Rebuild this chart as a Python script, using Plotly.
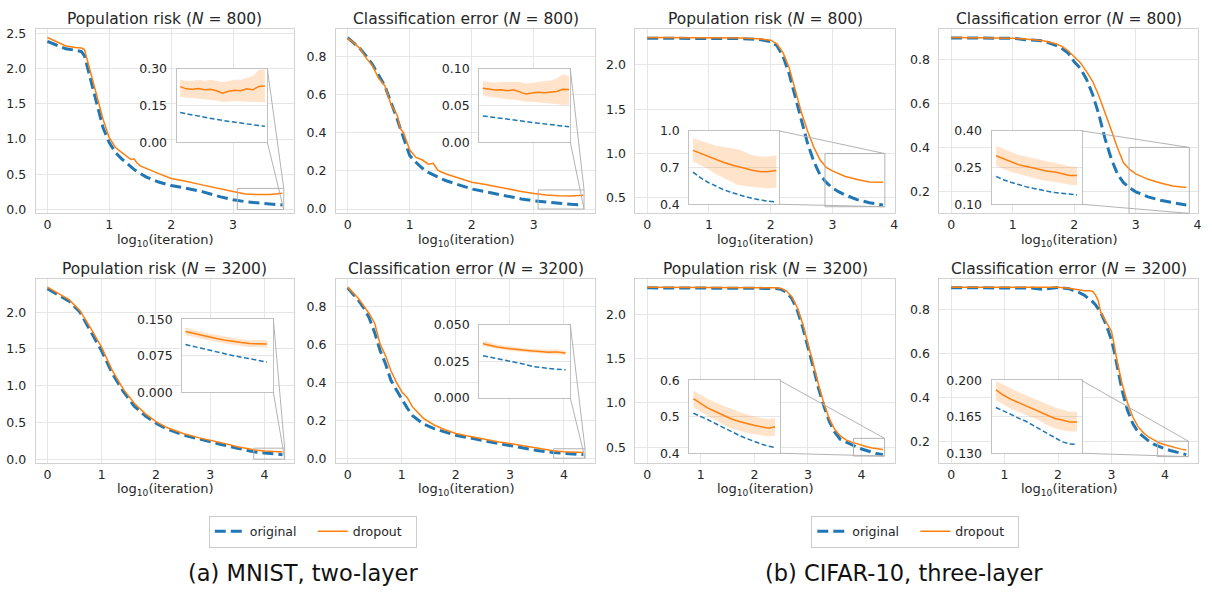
import plotly.graph_objects as go

# ------------------------------------------------------------------
# DATA (x = log10(iteration))
# ------------------------------------------------------------------
# (a) MNIST two-layer, N = 800, population risk
mn800_risk_x = [0, 0.15, 0.3, 0.45, 0.55, 0.6, 0.7, 0.8, 0.9, 1.0, 1.1, 1.2, 1.3, 1.35, 1.4, 1.45, 1.5, 1.6,
                1.8, 2.0, 2.2, 2.5, 2.8, 3.0, 3.2, 3.4, 3.6, 3.8]
mn800_risk_orig = [2.385, 2.33, 2.28, 2.26, 2.24, 2.18, 1.85, 1.48, 1.16, 0.95, 0.81, 0.72, 0.64, 0.60, 0.57, 0.54,
                   0.51, 0.46, 0.39, 0.34, 0.31, 0.255, 0.18, 0.14, 0.112, 0.094, 0.078, 0.064]
mn800_risk_drop = [2.44, 2.38, 2.32, 2.30, 2.29, 2.27, 1.95, 1.60, 1.28, 1.02, 0.88, 0.81, 0.75, 0.71, 0.72, 0.66,
                   0.62, 0.58, 0.51, 0.44, 0.41, 0.35, 0.29, 0.255, 0.222, 0.212, 0.214, 0.23]
mn800_risk_xi = [3.1, 3.15, 3.2, 3.25, 3.3, 3.35, 3.4, 3.45, 3.5, 3.55, 3.6, 3.65, 3.7, 3.75, 3.8]
mn800_risk_orig_i = [0.121, 0.116, 0.111, 0.106, 0.101, 0.097, 0.093, 0.089, 0.085, 0.081, 0.078, 0.074, 0.071,
                     0.068, 0.065]
mn800_risk_drop_i = [0.227, 0.218, 0.216, 0.219, 0.214, 0.216, 0.21, 0.20, 0.208, 0.212, 0.21, 0.218, 0.214,
                     0.228, 0.23]
mn800_risk_lo_i = [0.185, 0.183, 0.18, 0.178, 0.176, 0.172, 0.17, 0.164, 0.166, 0.168, 0.166, 0.168, 0.165, 0.164,
                   0.163]
mn800_risk_hi_i = [0.255, 0.25, 0.25, 0.255, 0.25, 0.255, 0.25, 0.245, 0.25, 0.255, 0.255, 0.262, 0.27, 0.295,
                   0.298]

# (a) MNIST two-layer, N = 800, classification error
mn800_err_x = [0, 0.1, 0.2, 0.3, 0.4, 0.5, 0.6, 0.65, 0.7, 0.8, 0.85, 0.9, 1.0, 1.1, 1.2, 1.3, 1.38, 1.45, 1.5,
               1.6, 1.8, 2.0, 2.2, 2.5, 2.8, 3.0, 3.2, 3.4, 3.6, 3.8]
mn800_err_orig = [0.898, 0.87, 0.84, 0.80, 0.757, 0.70, 0.645, 0.60, 0.56, 0.47, 0.42, 0.37, 0.28, 0.245, 0.215,
                  0.192, 0.178, 0.168, 0.16, 0.147, 0.124, 0.105, 0.092, 0.071, 0.053, 0.043, 0.036, 0.030, 0.025,
                  0.021]
mn800_err_drop = [0.895, 0.87, 0.84, 0.79, 0.75, 0.685, 0.645, 0.60, 0.545, 0.49, 0.42, 0.40, 0.31, 0.27, 0.258,
                  0.235, 0.24, 0.205, 0.195, 0.182, 0.162, 0.14, 0.13, 0.11, 0.092, 0.082, 0.073, 0.070, 0.069,
                  0.072]
mn800_err_xi = [3.1, 3.15, 3.2, 3.25, 3.3, 3.35, 3.4, 3.45, 3.5, 3.55, 3.6, 3.65, 3.7, 3.75, 3.8]
mn800_err_orig_i = [0.0358, 0.0346, 0.0334, 0.0322, 0.0311, 0.0300, 0.0290, 0.0280, 0.0270, 0.0260, 0.0251,
                    0.0242, 0.0232, 0.0221, 0.0210]
mn800_err_drop_i = [0.0735, 0.072, 0.071, 0.0715, 0.070, 0.0715, 0.069, 0.0655, 0.067, 0.068, 0.0675, 0.068,
                    0.069, 0.072, 0.0717]
mn800_err_lo_i = [0.064, 0.062, 0.061, 0.060, 0.058, 0.058, 0.057, 0.055, 0.055, 0.054, 0.054, 0.053, 0.052,
                  0.051, 0.051]
mn800_err_hi_i = [0.083, 0.082, 0.081, 0.082, 0.082, 0.083, 0.082, 0.080, 0.081, 0.082, 0.082, 0.084, 0.087,
                  0.092, 0.090]

# (b) CIFAR-10 three-layer, N = 800, population risk
cf800_risk_x = [0, 0.5, 1.0, 1.5, 1.8, 2.0, 2.1, 2.2, 2.3, 2.4, 2.5, 2.6, 2.7, 2.8, 2.9, 3.0, 3.1, 3.2, 3.4, 3.6,
                3.82]
cf800_risk_orig = [2.302, 2.302, 2.301, 2.298, 2.29, 2.265, 2.22, 2.10, 1.90, 1.63, 1.35, 1.11, 0.91, 0.76, 0.675,
                   0.612, 0.57, 0.535, 0.48, 0.445, 0.419]
cf800_risk_drop = [2.31, 2.31, 2.309, 2.305, 2.297, 2.28, 2.24, 2.14, 1.97, 1.72, 1.46, 1.25, 1.07, 0.93, 0.845,
                   0.805, 0.775, 0.745, 0.708, 0.678, 0.675]
cf800_risk_xi = [2.92, 3.0, 3.08, 3.16, 3.24, 3.32, 3.4, 3.48, 3.56, 3.64, 3.72, 3.82]
cf800_risk_orig_i = [0.663, 0.617, 0.58, 0.55, 0.523, 0.50, 0.48, 0.463, 0.448, 0.436, 0.426, 0.419]
cf800_risk_drop_i = [0.84, 0.815, 0.79, 0.765, 0.745, 0.725, 0.708, 0.69, 0.678, 0.668, 0.665, 0.675]
cf800_risk_lo_i = [0.75, 0.72, 0.69, 0.65, 0.62, 0.59, 0.56, 0.55, 0.54, 0.535, 0.53, 0.535]
cf800_risk_hi_i = [0.94, 0.92, 0.90, 0.88, 0.87, 0.86, 0.85, 0.83, 0.80, 0.79, 0.79, 0.80]

# (b) CIFAR-10 three-layer, N = 800, classification error
cf800_err_x = [0, 0.5, 1.0, 1.2, 1.5, 1.7, 1.8, 1.9, 2.0, 2.1, 2.2, 2.3, 2.4, 2.5, 2.6, 2.7, 2.8, 2.9, 3.0, 3.2,
               3.4, 3.6, 3.82]
cf800_err_orig = [0.898, 0.898, 0.897, 0.89, 0.885, 0.865, 0.85, 0.83, 0.79, 0.76, 0.71, 0.64, 0.55, 0.44, 0.35,
                  0.28, 0.24, 0.216, 0.198, 0.175, 0.16, 0.149, 0.138]
cf800_err_drop = [0.9, 0.9, 0.897, 0.893, 0.885, 0.872, 0.86, 0.84, 0.81, 0.785, 0.745, 0.70, 0.635, 0.56, 0.48,
                  0.40, 0.33, 0.30, 0.28, 0.255, 0.238, 0.225, 0.218]
cf800_err_xi = [2.94, 3.02, 3.1, 3.18, 3.26, 3.34, 3.42, 3.5, 3.58, 3.66, 3.74, 3.82]
cf800_err_orig_i = [0.214, 0.2, 0.19, 0.18, 0.172, 0.165, 0.158, 0.153, 0.148, 0.144, 0.14, 0.138]
cf800_err_drop_i = [0.298, 0.285, 0.272, 0.262, 0.255, 0.248, 0.24, 0.235, 0.232, 0.225, 0.218, 0.218]
cf800_err_lo_i = [0.256, 0.245, 0.232, 0.222, 0.215, 0.208, 0.2, 0.195, 0.19, 0.186, 0.18, 0.178]
cf800_err_hi_i = [0.338, 0.325, 0.312, 0.302, 0.295, 0.29, 0.282, 0.275, 0.27, 0.262, 0.255, 0.252]

# (a) MNIST two-layer, N = 3200, population risk
mn3200_risk_x = [0, 0.2, 0.4, 0.6, 0.8, 1.0, 1.2, 1.4, 1.6, 1.8, 2.0, 2.2, 2.5, 2.8, 3.0, 3.2, 3.5, 3.8, 4.0, 4.2,
                 4.33]
mn3200_risk_orig = [2.32, 2.24, 2.15, 2.0, 1.74, 1.47, 1.16, 0.92, 0.72, 0.59, 0.49, 0.41, 0.33, 0.27, 0.235, 0.2,
                    0.15, 0.1, 0.083, 0.07, 0.062]
mn3200_risk_drop = [2.34, 2.25, 2.17, 2.02, 1.78, 1.52, 1.2, 0.95, 0.76, 0.62, 0.51, 0.43, 0.35, 0.29, 0.26, 0.225,
                    0.17, 0.127, 0.112, 0.102, 0.099]
mn3200_risk_xi = [3.82, 3.87, 3.92, 3.97, 4.02, 4.07, 4.12, 4.17, 4.22, 4.27, 4.33]
mn3200_risk_orig_i = [0.098, 0.094, 0.09, 0.086, 0.082, 0.079, 0.075, 0.072, 0.069, 0.066, 0.062]
mn3200_risk_drop_i = [0.125, 0.121, 0.117, 0.113, 0.11, 0.107, 0.104, 0.102, 0.1, 0.099, 0.099]
mn3200_risk_lo_i = [0.117, 0.114, 0.11, 0.106, 0.103, 0.1, 0.097, 0.095, 0.093, 0.092, 0.092]
mn3200_risk_hi_i = [0.133, 0.128, 0.124, 0.12, 0.117, 0.114, 0.111, 0.109, 0.107, 0.107, 0.107]

# (a) MNIST two-layer, N = 3200, classification error
mn3200_err_x = [0, 0.1, 0.2, 0.3, 0.4, 0.5, 0.6, 0.7, 0.8, 0.9, 1.0, 1.1, 1.2, 1.4, 1.6, 1.8, 2.0, 2.2, 2.5, 2.8,
                3.0, 3.2, 3.5, 3.8, 4.0, 4.2, 4.36]
mn3200_err_orig = [0.896, 0.865, 0.83, 0.79, 0.737, 0.66, 0.566, 0.497, 0.41, 0.36, 0.31, 0.265, 0.224, 0.18,
                   0.156, 0.137, 0.121, 0.11, 0.092, 0.077, 0.067, 0.057, 0.041, 0.03, 0.026, 0.022, 0.019]
mn3200_err_drop = [0.90, 0.87, 0.84, 0.80, 0.76, 0.71, 0.60, 0.54, 0.46, 0.40, 0.35, 0.32, 0.27, 0.21, 0.175, 0.15,
                   0.13, 0.118, 0.10, 0.086, 0.078, 0.068, 0.055, 0.039, 0.034, 0.032, 0.0305]
mn3200_err_xi = [3.835, 3.88, 3.925, 3.97, 4.015, 4.06, 4.105, 4.15, 4.2, 4.25, 4.3, 4.36]
mn3200_err_orig_i = [0.0288, 0.0279, 0.027, 0.0261, 0.0247, 0.0238, 0.0228, 0.0215, 0.0208, 0.0201, 0.0196,
                     0.0192]
mn3200_err_drop_i = [0.037, 0.0358, 0.0348, 0.034, 0.0334, 0.0328, 0.0323, 0.032, 0.0316, 0.0312, 0.0314, 0.0306]
mn3200_err_lo_i = [0.0352, 0.0342, 0.0333, 0.0326, 0.032, 0.0315, 0.031, 0.0307, 0.0303, 0.0299, 0.0299, 0.0293]
mn3200_err_hi_i = [0.0392, 0.0377, 0.0364, 0.0355, 0.0348, 0.0342, 0.0337, 0.0334, 0.0331, 0.0328, 0.0332,
                   0.0322]

# (b) CIFAR-10 three-layer, N = 3200, population risk
cf3200_risk_x = [0, 0.5, 1.0, 1.5, 2.0, 2.2, 2.4, 2.5, 2.6, 2.7, 2.8, 2.9, 3.0, 3.1, 3.2, 3.3, 3.4, 3.5, 3.6, 3.7,
                 3.8, 3.9, 4.0, 4.1, 4.2, 4.3, 4.4]
cf3200_risk_orig = [2.302, 2.302, 2.302, 2.302, 2.301, 2.30, 2.295, 2.285, 2.25, 2.18, 2.05, 1.86, 1.64, 1.40, 1.16,
                    0.96, 0.79, 0.67, 0.59, 0.56, 0.53, 0.505, 0.48, 0.46, 0.44, 0.425, 0.416]
cf3200_risk_drop = [2.31, 2.31, 2.31, 2.31, 2.309, 2.307, 2.302, 2.295, 2.265, 2.20, 2.08, 1.90, 1.68, 1.44, 1.20,
                    0.99, 0.82, 0.70, 0.63, 0.585, 0.56, 0.54, 0.52, 0.505, 0.49, 0.478, 0.473]
cf3200_risk_xi = [3.876, 3.92, 3.97, 4.02, 4.07, 4.12, 4.17, 4.22, 4.27, 4.32, 4.36, 4.40]
cf3200_risk_orig_i = [0.51, 0.502, 0.492, 0.481, 0.47, 0.458, 0.449, 0.44, 0.431, 0.424, 0.419, 0.416]
cf3200_risk_drop_i = [0.55, 0.537, 0.524, 0.514, 0.504, 0.494, 0.487, 0.481, 0.476, 0.472, 0.469, 0.473]
cf3200_risk_lo_i = [0.527, 0.515, 0.502, 0.49, 0.478, 0.468, 0.462, 0.456, 0.452, 0.448, 0.446, 0.448]
cf3200_risk_hi_i = [0.572, 0.561, 0.549, 0.539, 0.53, 0.521, 0.513, 0.507, 0.50, 0.496, 0.494, 0.497]

# (b) CIFAR-10 three-layer, N = 3200, classification error
cf3200_err_x = [0, 0.5, 1.0, 1.5, 1.7, 2.0, 2.2, 2.4, 2.5, 2.6, 2.65, 2.7, 2.75, 2.8, 2.9, 3.0, 3.05, 3.1, 3.2,
                3.3, 3.4, 3.5, 3.6, 3.7, 3.8, 3.9, 4.0, 4.1, 4.2, 4.3, 4.4]
cf3200_err_orig = [0.897, 0.897, 0.897, 0.896, 0.89, 0.898, 0.893, 0.875, 0.862, 0.845, 0.833, 0.82, 0.805, 0.785,
                   0.73, 0.66, 0.61, 0.55, 0.43, 0.34, 0.28, 0.24, 0.218, 0.2, 0.185, 0.174, 0.166, 0.158, 0.151,
                   0.143, 0.139]
cf3200_err_drop = [0.90, 0.90, 0.90, 0.90, 0.899, 0.899, 0.895, 0.886, 0.884, 0.883, 0.88, 0.865, 0.84, 0.785,
                   0.745, 0.70, 0.64, 0.57, 0.46, 0.375, 0.31, 0.265, 0.238, 0.218, 0.205, 0.192, 0.184, 0.177,
                   0.17, 0.164, 0.16]
cf3200_err_xi = [3.888, 3.935, 3.983, 4.03, 4.078, 4.125, 4.173, 4.22, 4.268, 4.315, 4.363, 4.41]
cf3200_err_orig_i = [0.174, 0.171, 0.1675, 0.164, 0.161, 0.157, 0.153, 0.149, 0.145, 0.141, 0.139, 0.1385]
cf3200_err_drop_i = [0.191, 0.186, 0.182, 0.179, 0.1755, 0.1725, 0.17, 0.1665, 0.1635, 0.162, 0.16, 0.16]
cf3200_err_lo_i = [0.181, 0.177, 0.173, 0.17, 0.167, 0.164, 0.161, 0.157, 0.154, 0.152, 0.151, 0.151]
cf3200_err_hi_i = [0.1995, 0.196, 0.192, 0.189, 0.186, 0.183, 0.18, 0.177, 0.174, 0.172, 0.17, 0.17]

# titles / labels
title_risk_800 = "Population risk (<i>N</i> = 800)"
title_err_800 = "Classification error (<i>N</i> = 800)"
title_risk_3200 = "Population risk (<i>N</i> = 3200)"
title_err_3200 = "Classification error (<i>N</i> = 3200)"
xlabel = "log<sub>10</sub>(iteration)"
caption_a = "(a) MNIST, two-layer"
caption_b = "(b) CIFAR-10, three-layer"
series_names = ["original", "dropout"]

# ------------------------------------------------------------------
# STYLE / LAYOUT
# ------------------------------------------------------------------
W, H = 1212, 599
FONT = "DejaVu Sans"
TXT = "#262626"
GRID = "#e6e6e6"
SPINE = "#d2d2d2"
IBORDER = "#c2c2c2"
CONN = "#b3b3b3"
BLUE = "#1f77b4"
ORANGE = "#ff7f0e"
BAND = "rgba(255,127,14,0.22)"

# pixel boxes: (left, top, right, bottom)
panels = [
    dict(x=mn800_risk_x, o=mn800_risk_orig, d=mn800_risk_drop, xi=mn800_risk_xi, oi=mn800_risk_orig_i,
         di=mn800_risk_drop_i, lo=mn800_risk_lo_i, hi=mn800_risk_hi_i, title=title_risk_800,
         box=(35.7, 21.7, 295.0, 210.7), ibox=(177.0, 62.3, 268.0, 137.7), ixr=(3.07, 3.82), iyr=(0.0, 0.30),
         yt=[0, 0.5, 1.0, 1.5, 2.0, 2.5], xt=[0, 1, 2, 3], it=[0, 0.15, 0.30], ifmt=".2f", leg="legend"),
    dict(x=mn800_err_x, o=mn800_err_orig, d=mn800_err_drop, xi=mn800_err_xi, oi=mn800_err_orig_i,
         di=mn800_err_drop_i, lo=mn800_err_lo_i, hi=mn800_err_hi_i, title=title_err_800,
         box=(336.7, 21.7, 596.7, 210.7), ibox=(480.3, 62.3, 571.7, 137.7), ixr=(3.07, 3.81), iyr=(0.0, 0.10),
         yt=[0, 0.2, 0.4, 0.6, 0.8], xt=[0, 1, 2, 3], it=[0, 0.05, 0.10], ifmt=".2f", leg=None),
    dict(x=cf800_risk_x, o=cf800_risk_orig, d=cf800_risk_drop, xi=cf800_risk_xi, oi=cf800_risk_orig_i,
         di=cf800_risk_drop_i, lo=cf800_risk_lo_i, hi=cf800_risk_hi_i, title=title_risk_800,
         box=(637.0, 21.7, 897.0, 210.7), ibox=(691.0, 126.0, 781.0, 201.3), ixr=(2.88, 3.85), iyr=(0.4, 1.0),
         yt=[0.5, 1.0, 1.5, 2.0], xt=[0, 1, 2, 3, 4], it=[0.4, 0.7, 1.0], ifmt=".1f", leg="legend2"),
    dict(x=cf800_err_x, o=cf800_err_orig, d=cf800_err_drop, xi=cf800_err_xi, oi=cf800_err_orig_i,
         di=cf800_err_drop_i, lo=cf800_err_lo_i, hi=cf800_err_hi_i, title=title_err_800,
         box=(941.7, 21.7, 1201.0, 210.7), ibox=(994.0, 126.0, 1084.3, 201.3), ixr=(2.89, 3.87), iyr=(0.10, 0.40),
         yt=[0.2, 0.4, 0.6, 0.8], xt=[0, 1, 2, 3, 4], it=[0.10, 0.25, 0.40], ifmt=".2f", leg=None),
    dict(x=mn3200_risk_x, o=mn3200_risk_orig, d=mn3200_risk_drop, xi=mn3200_risk_xi, oi=mn3200_risk_orig_i,
         di=mn3200_risk_drop_i, lo=mn3200_risk_lo_i, hi=mn3200_risk_hi_i, title=title_risk_3200,
         box=(35.7, 277.7, 295.0, 466.7), ibox=(182.7, 319.3, 274.0, 394.0), ixr=(3.80, 4.37), iyr=(0.0, 0.15),
         yt=[0, 0.5, 1.0, 1.5, 2.0], xt=[0, 1, 2, 3, 4], it=[0, 0.075, 0.15], ifmt=".3f", leg=None),
    dict(x=mn3200_err_x, o=mn3200_err_orig, d=mn3200_err_drop, xi=mn3200_err_xi, oi=mn3200_err_orig_i,
         di=mn3200_err_drop_i, lo=mn3200_err_lo_i, hi=mn3200_err_hi_i, title=title_err_3200,
         box=(336.7, 277.7, 596.7, 466.7), ibox=(480.3, 324.7, 571.7, 400.0), ixr=(3.81, 4.39), iyr=(0.0, 0.05),
         yt=[0, 0.2, 0.4, 0.6, 0.8], xt=[0, 1, 2, 3, 4], it=[0, 0.025, 0.05], ifmt=".3f", leg=None),
    dict(x=cf3200_risk_x, o=cf3200_risk_orig, d=cf3200_risk_drop, xi=cf3200_risk_xi, oi=cf3200_risk_orig_i,
         di=cf3200_risk_drop_i, lo=cf3200_risk_lo_i, hi=cf3200_risk_hi_i, title=title_risk_3200,
         box=(637.0, 277.7, 897.0, 466.7), ibox=(691.0, 382.0, 781.7, 456.7), ixr=(3.85, 4.43), iyr=(0.4, 0.6),
         yt=[0.5, 1.0, 1.5, 2.0], xt=[0, 1, 2, 3, 4], it=[0.4, 0.5, 0.6], ifmt=".1f", leg=None),
    dict(x=cf3200_err_x, o=cf3200_err_orig, d=cf3200_err_drop, xi=cf3200_err_xi, oi=cf3200_err_orig_i,
         di=cf3200_err_drop_i, lo=cf3200_err_lo_i, hi=cf3200_err_hi_i, title=title_err_3200,
         box=(941.7, 277.7, 1201.0, 466.7), ibox=(994.0, 382.0, 1084.3, 456.7), ixr=(3.86, 4.44), iyr=(0.13, 0.20),
         yt=[0.2, 0.4, 0.6, 0.8], xt=[0, 1, 2, 3, 4], it=[0.13, 0.165, 0.20], ifmt=".3f", leg=None),
]


def xdom(l, r):
    return [l / W, r / W]


def ydom(t, b):
    return [1 - b / H, 1 - t / H]


fig = go.Figure()
layout = dict(
    width=W, height=H, autosize=False,
    margin=dict(l=0, r=0, t=0, b=0),
    paper_bgcolor="white", plot_bgcolor="white",
    font=dict(family=FONT, color=TXT, size=12.5),
    showlegend=True,
    shapes=[], annotations=[],
)

tickfont = dict(family=FONT, size=12.5, color=TXT)

for k, p in enumerate(panels):
    mi = 11 + k   # main axis id
    ii = 21 + k   # inset axis id
    mx, my, ix, iy = f"x{mi}", f"y{mi}", f"x{ii}", f"y{ii}"

    # matplotlib-like autoscaled ranges (5% margins)
    xmin, xmax = min(p["x"]), max(p["x"])
    xpad = 0.05 * (xmax - xmin)
    xr = [xmin - xpad, xmax + xpad]
    vals = p["o"] + p["d"]
    ymin, ymax = min(vals), max(vals)
    ypad = 0.05 * (ymax - ymin)
    yr = [ymin - ypad, ymax + ypad]

    l, t, r, b = p["box"]
    il, it_, ir, ib = p["ibox"]

    layout[f"xaxis{mi}"] = dict(domain=xdom(l, r), range=xr, anchor=my, tickvals=p["xt"], ticks="",
                                showgrid=True, gridcolor=GRID, gridwidth=1, zeroline=False,
                                showline=True, mirror=True, linecolor=SPINE, linewidth=1,
                                tickfont=tickfont, ticklabelstandoff=0)
    layout[f"yaxis{mi}"] = dict(domain=ydom(t, b), range=yr, anchor=mx, tickvals=p["yt"], tickformat=".1f",
                                ticks="", showgrid=True, gridcolor=GRID, gridwidth=1, zeroline=False,
                                showline=True, mirror=True, linecolor=SPINE, linewidth=1,
                                tickfont=tickfont, ticklabelstandoff=6)
    eps = 1e-6 * (p["iyr"][1] - p["iyr"][0])
    layout[f"xaxis{ii}"] = dict(domain=xdom(il, ir), range=list(p["ixr"]), anchor=iy, showticklabels=False,
                                ticks="", showgrid=False, zeroline=False, showline=True, mirror=True,
                                linecolor=IBORDER, linewidth=1)
    layout[f"yaxis{ii}"] = dict(domain=ydom(it_, ib), range=[p["iyr"][0] - eps, p["iyr"][1] + eps], anchor=ix,
                                tickvals=p["it"], tickformat=p["ifmt"], ticks="", showgrid=True, gridcolor=GRID,
                                zeroline=False, showline=True, mirror=True, linecolor=IBORDER, linewidth=1,
                                tickfont=tickfont, ticklabelstandoff=6)

    show = p["leg"] is not None
    legname = p["leg"] if show else "legend"
    # main curves
    fig.add_trace(go.Scatter(x=p["x"], y=p["o"], mode="lines", name=series_names[0],
                             line=dict(color=BLUE, width=3, dash="11px,5px"),
                             xaxis=mx, yaxis=my, showlegend=show, legend=legname, hoverinfo="skip"))
    fig.add_trace(go.Scatter(x=p["x"], y=p["d"], mode="lines", name=series_names[1],
                             line=dict(color=ORANGE, width=1.5),
                             xaxis=mx, yaxis=my, showlegend=show, legend=legname, hoverinfo="skip"))
    # inset: band + curves
    fig.add_trace(go.Scatter(x=p["xi"] + p["xi"][::-1], y=p["hi"] + p["lo"][::-1], mode="lines",
                             fill="toself", fillcolor=BAND, line=dict(width=0, color=BAND),
                             xaxis=ix, yaxis=iy, showlegend=False, hoverinfo="skip"))
    fig.add_trace(go.Scatter(x=p["xi"], y=p["oi"], mode="lines", line=dict(color=BLUE, width=1.5, dash="5px,2.5px"),
                             xaxis=ix, yaxis=iy, showlegend=False, hoverinfo="skip"))
    fig.add_trace(go.Scatter(x=p["xi"], y=p["di"], mode="lines", line=dict(color=ORANGE, width=1.5),
                             xaxis=ix, yaxis=iy, showlegend=False, hoverinfo="skip"))

    # zoom rectangle in data coordinates of the main axes
    x0, x1 = p["ixr"]
    y0, y1 = p["iyr"]
    layout["shapes"].append(dict(type="rect", xref=mx, yref=my, x0=x0, x1=x1, y0=y0, y1=y1,
                                 line=dict(color=CONN, width=1), fillcolor="rgba(0,0,0,0)", layer="above"))

    # connector lines (inset upper-right / lower-right corners -> rectangle corners)
    dx, dy = xdom(l, r), ydom(t, b)

    def to_px(xv, yv):
        px = dx[0] + (xv - xr[0]) / (xr[1] - xr[0]) * (dx[1] - dx[0])
        py = dy[0] + (yv - yr[0]) / (yr[1] - yr[0]) * (dy[1] - dy[0])
        return px, py

    idx, idy = xdom(il, ir), ydom(it_, ib)
    for (cx, cy, rx, ry) in [(idx[1], idy[1], x1, y1), (idx[1], idy[0], x1, y0)]:
        qx, qy = to_px(rx, ry)
        layout["shapes"].append(dict(type="line", xref="paper", yref="paper", x0=cx, y0=cy, x1=qx, y1=qy,
                                     line=dict(color=CONN, width=1), layer="above"))

    # title and x label
    layout["annotations"].append(dict(text=p["title"], xref="paper", yref="paper", x=(l + r) / 2 / W,
                                      y=1 - (t - 10.5) / H, xanchor="center", yanchor="middle", showarrow=False,
                                      font=dict(family=FONT, size=15.5, color=TXT)))
    layout["annotations"].append(dict(text=xlabel, xref="paper", yref="paper", x=(l + r) / 2 / W,
                                      y=1 - (b + 27.5) / H, xanchor="center", yanchor="middle", showarrow=False,
                                      font=dict(family=FONT, size=13, color=TXT)))

# captions
layout["annotations"].append(dict(text=caption_a, xref="paper", yref="paper", x=304.2 / W, y=1 - 580 / H,
                                  xanchor="center", yanchor="middle", showarrow=False,
                                  font=dict(family=FONT, size=22.5, color="#111111")))
layout["annotations"].append(dict(text=caption_b, xref="paper", yref="paper", x=906.7 / W, y=1 - 580 / H,
                                  xanchor="center", yanchor="middle", showarrow=False,
                                  font=dict(family=FONT, size=22.5, color="#111111")))

legstyle = dict(orientation="h", xanchor="left", yanchor="top", bgcolor="white", bordercolor="#cccccc",
                borderwidth=1, font=dict(family=FONT, size=12.5, color=TXT), entrywidth=58,
                entrywidthmode="pixels", traceorder="normal")
layout["legend"] = dict(x=209.3 / W, y=1 - 520.7 / H, **legstyle)
layout["legend2"] = dict(x=813.3 / W, y=1 - 520.7 / H, **legstyle)

fig.update_layout(**layout)
fig.write_html("out.html")
